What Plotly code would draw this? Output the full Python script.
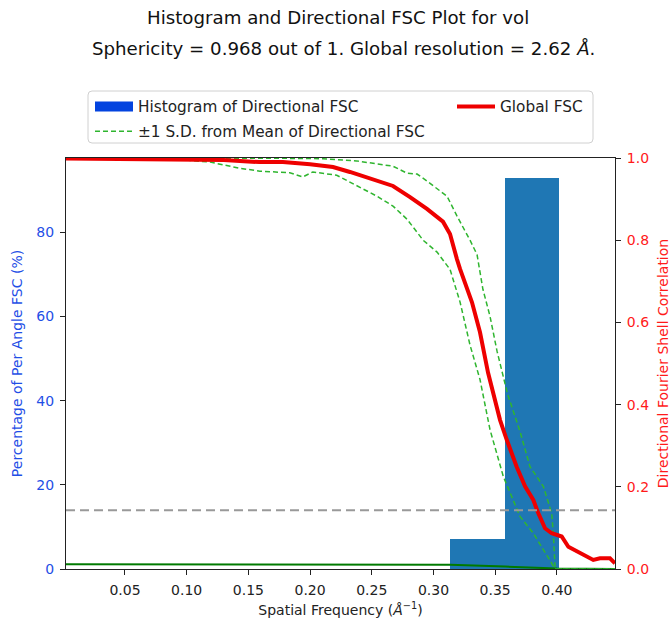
import plotly.graph_objects as go

# ---------------- data ----------------
title_line1 = "Histogram and Directional FSC Plot for vol"
title_line2 = "Sphericity = 0.968 out of 1. Global resolution = 2.62 <i>Å</i>."

hist_edges = [0.3135, 0.3577, 0.4019]
hist_percent = [7.1, 93.0]

gfsc_freq = [0.0022, 0.05, 0.105, 0.13, 0.159, 0.178, 0.200, 0.2186, 0.2323, 0.2542,
             0.2672, 0.281, 0.2947, 0.3077, 0.3134, 0.319, 0.3215, 0.3312, 0.3377,
             0.3442, 0.3498, 0.3539, 0.3593, 0.3674, 0.3742, 0.3809, 0.3849, 0.3904,
             0.3958, 0.4039, 0.4093, 0.4214, 0.4295, 0.4349, 0.443, 0.4471]
gfsc_val = [0.999, 0.998, 0.997, 0.995, 0.99, 0.99, 0.985, 0.978, 0.966, 0.944,
            0.932, 0.905, 0.876, 0.845, 0.815, 0.754, 0.73, 0.649, 0.576,
            0.478, 0.412, 0.363, 0.315, 0.249, 0.201, 0.168, 0.136, 0.099,
            0.087, 0.079, 0.054, 0.034, 0.022, 0.026, 0.026, 0.014]

upper_freq = [0.0022, 0.18, 0.2, 0.2105, 0.2375, 0.2672, 0.2786, 0.2867, 0.2947,
              0.311, 0.319, 0.3296, 0.3353, 0.3401, 0.3458, 0.3515, 0.3601, 0.3701,
              0.3782, 0.389, 0.3958, 0.3971, 0.3985, 0.40, 0.4471]
upper_val = [1.0, 1.0, 0.999, 0.998, 0.993, 0.98, 0.963, 0.961, 0.944,
             0.907, 0.859, 0.80, 0.765, 0.68, 0.615, 0.53, 0.425, 0.335,
             0.249, 0.201, 0.136, 0.087, 0.006, 0.0, 0.0]

lower_freq = [0.0022, 0.0865, 0.119, 0.1431, 0.1593, 0.1836, 0.1941, 0.2022, 0.2216,
              0.2323, 0.2542, 0.2672, 0.2786, 0.2916, 0.3029, 0.3134, 0.3215, 0.3296,
              0.3377, 0.3458, 0.3566, 0.3701, 0.3809, 0.3958, 0.3985, 0.4471]
lower_val = [1.0, 0.998, 0.99, 0.975, 0.968, 0.964, 0.954, 0.966, 0.958,
             0.941, 0.907, 0.883, 0.851, 0.80, 0.771, 0.729, 0.65, 0.545,
             0.461, 0.339, 0.225, 0.128, 0.087, 0.014, 0.0, 0.0]

base_freq = [0.0022, 0.25, 0.3134, 0.358, 0.40, 0.4471]
base_val = [0.0115, 0.0112, 0.0105, 0.006, 0.001, 0.0]

fsc_threshold = 0.143

x_ticks = [0.05, 0.10, 0.15, 0.20, 0.25, 0.30, 0.35, 0.40]
left_ticks = [0, 20, 40, 60, 80]
right_ticks = [0.0, 0.2, 0.4, 0.6, 0.8, 1.0]

# ---------------- figure ----------------
FONT = "DejaVu Sans"
BLUE_TXT = "#1f4fe6"
RED_TXT = "#ff1a1a"
L, R, T, B = 66, 56, 158, 58
W, H = 671, 627
PW, PH = W - L - R, H - T - B


def px_x(px):
    return (px - L) / PW


def px_y(py):
    return (H - B - py) / PH


hist_centers = [(hist_edges[i] + hist_edges[i + 1]) / 2 for i in range(len(hist_percent))]
hist_widths = [hist_edges[i + 1] - hist_edges[i] for i in range(len(hist_percent))]

fig = go.Figure()

fig.add_trace(go.Bar(x=hist_centers, y=hist_percent, width=hist_widths,
                     marker=dict(color="#1f77b4", line=dict(width=0)),
                     showlegend=False, yaxis="y", hoverinfo="skip"))
# legend proxy for the histogram patch
fig.add_trace(go.Scatter(x=[None], y=[None], mode="lines", yaxis="y2",
                         line=dict(color="#0343df", width=12),
                         name="Histogram of Directional FSC",
                         legend="legend", legendgroup="a"))

fig.add_trace(go.Scatter(x=base_freq, y=base_val, mode="lines", yaxis="y2",
                         line=dict(color="#007a00", width=2), showlegend=False))
fig.add_trace(go.Scatter(x=upper_freq, y=upper_val, mode="lines", yaxis="y2",
                         line=dict(color="#2fb52f", width=1.5, dash="5px,3px"),
                         name="±1 S.D. from Mean of Directional FSC",
                         legend="legend", legendgroup="b"))
fig.add_trace(go.Scatter(x=lower_freq, y=lower_val, mode="lines", yaxis="y2",
                         line=dict(color="#2fb52f", width=1.5, dash="5px,3px"),
                         showlegend=False))
fig.add_trace(go.Scatter(x=gfsc_freq, y=gfsc_val, mode="lines", yaxis="y2",
                         line=dict(color="#ee0000", width=4),
                         name="Global FSC", legend="legend2"))

fig.add_shape(type="line", xref="paper", x0=0, x1=1, yref="y2",
              y0=fsc_threshold, y1=fsc_threshold,
              line=dict(color="#999999", width=2, dash="9px,5px"))

# legend frame (rounded)
x0, x1, y0, y1, r = px_x(88), px_x(593), px_y(143), px_y(91), 4
rx, ry = r / PW, r / PH
frame = (f"M{x0 + rx},{y1} L{x1 - rx},{y1} Q{x1},{y1} {x1},{y1 - ry} "
         f"L{x1},{y0 + ry} Q{x1},{y0} {x1 - rx},{y0} L{x0 + rx},{y0} "
         f"Q{x0},{y0} {x0},{y0 + ry} L{x0},{y1 - ry} Q{x0},{y1} {x0 + rx},{y1} Z")
fig.add_shape(type="path", xref="paper", yref="paper", path=frame,
              line=dict(color="#d0d0d0", width=1), fillcolor="rgba(0,0,0,0)",
              layer="below")

fig.add_annotation(text=title_line1, xref="paper", yref="paper", x=px_x(338), y=px_y(17),
                   xanchor="center", yanchor="middle", showarrow=False,
                   font=dict(size=18.2, color="#111", family=FONT))
fig.add_annotation(text=title_line2, xref="paper", yref="paper", x=px_x(343), y=px_y(48),
                   xanchor="center", yanchor="middle", showarrow=False,
                   font=dict(size=18.2, color="#111", family=FONT))

axis_common = dict(ticks="outside", ticklen=5, tickcolor="#222", tickwidth=1,
                   showline=True, linecolor="#222", linewidth=1, automargin=False,
                   showgrid=False, zeroline=False, ticklabelstandoff=3)

fig.update_layout(
    width=W, height=H, autosize=False,
    margin=dict(l=L, r=R, t=T, b=B, pad=0),
    paper_bgcolor="white", plot_bgcolor="white",
    font=dict(family=FONT, size=14, color="#222"),
    barmode="overlay", bargap=0,
    xaxis=dict(range=[0.0022, 0.4471], tickvals=x_ticks,
               ticktext=[f"{v:.2f}" for v in x_ticks], mirror=True,
               tickfont=dict(size=14, color="#222"),
               title=dict(text="Spatial Frequency (<i>Å</i><sup>−1</sup>)",
                          font=dict(size=14, color="#222"), standoff=8),
               **axis_common),
    yaxis=dict(range=[0, 97.65], tickvals=left_ticks,
               tickfont=dict(size=14, color=BLUE_TXT),
               title=dict(text="Percentage of Per Angle FSC (%)",
                          font=dict(size=14, color=BLUE_TXT), standoff=10),
               **axis_common),
    yaxis2=dict(range=[0, 1], tickvals=right_ticks,
                ticktext=[f"{v:.1f}" for v in right_ticks],
                overlaying="y", side="right", anchor="x",
                tickfont=dict(size=14, color=RED_TXT),
                title=dict(text="Directional Fourier Shell Correlation",
                           font=dict(size=14, color=RED_TXT), standoff=10),
                **axis_common),
    legend=dict(orientation="v", x=px_x(90), y=px_y(90),
                xanchor="left", yanchor="top", itemwidth=38,
                bgcolor="rgba(0,0,0,0)", borderwidth=0,
                font=dict(size=15.3, color="#222", family=FONT),
                tracegroupgap=2, traceorder="grouped"),
    legend2=dict(orientation="v", x=px_x(452), y=px_y(90),
                 xanchor="left", yanchor="top", itemwidth=38,
                 bgcolor="rgba(0,0,0,0)", borderwidth=0,
                 font=dict(size=15.3, color="#222", family=FONT)),
    showlegend=True,
)

fig.write_html("out.html", config={"displayModeBar": False},
               post_script="document.body.style.margin='0px';")
